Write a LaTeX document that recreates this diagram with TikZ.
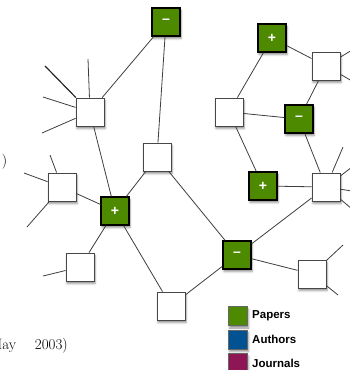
\documentclass[tikz,border=0pt]{standalone}
\usepackage{fontspec}
\newfontfamily\labelfont{Liberation Sans}
\usetikzlibrary{shadows.blur}

\definecolor{papergreen}{RGB}{77,138,0}
\definecolor{authorblue}{RGB}{0,82,147}
\definecolor{journalred}{RGB}{143,22,84}
\definecolor{edgegray}{RGB}{62,62,62}

\tikzset{
  soft shadow/.style={blur shadow={shadow xshift=1pt, shadow yshift=-2.5pt,
      shadow blur radius=2pt, shadow opacity=45}},
  item/.style={rectangle, minimum size=28pt, inner sep=0pt, soft shadow},
  doc/.style={item, draw=black!72, line width=0.9pt, fill=white},
  paper/.style={item, draw=black, line width=1.4pt, fill=papergreen, text=white,
      font=\labelfont\bfseries\fontsize{14}{14}\selectfont},
  link/.style={draw=edgegray, line width=0.8pt},
  strong link/.style={draw=black!85, line width=1.2pt},
  keybox/.style={rectangle, minimum size=19pt, inner sep=0pt, draw=black!60,
      line width=0.8pt, soft shadow},
  keytext/.style={anchor=west, inner sep=0pt,
      font=\labelfont\bfseries\fontsize{11.5}{12}\selectfont},
  caption/.style={inner sep=0pt, font=\fontsize{15}{15}\selectfont},
}

\begin{document}
\begin{tikzpicture}[x=1pt, y=-1pt]
\useasboundingbox (0,0) rectangle (350,370);

% citation network: green = papers, white = unexpanded items
\node[paper] (M1) at (166,22)  {\raisebox{0.5pt}{–}};
\node[paper] (P1) at (272,38)  {+};
\node[doc]   (W1) at (326,66)  {};
\node[doc]   (W2) at (229,112) {};
\node[paper] (M2) at (299,119) {\raisebox{0.5pt}{–}};
\node[doc]   (W4) at (90,112)  {};
\node[doc]   (W5) at (157,157) {};
\node[paper] (P2) at (263,186) {+};
\node[doc]   (W3) at (326,187) {};
\node[doc]   (W6) at (62,187)  {};
\node[paper] (P3) at (115,211) {+};
\node[paper] (M3) at (237,255) {\raisebox{0.5pt}{–}};
\node[doc]   (W7) at (80,267)  {};
\node[doc]   (W9) at (312,274) {};
\node[doc]   (W8) at (171,306) {};

% loose ends of links leading out of view
\coordinate (w4a) at (45,66);
\coordinate (w4b) at (88,59);
\coordinate (w4c) at (43,97);
\coordinate (w4d) at (42,133);
\coordinate (w6a) at (50,155);
\coordinate (w6b) at (24,173);
\coordinate (w6c) at (27,227);
\coordinate (w7a) at (43,276);
\coordinate (w1a) at (352,50);
\coordinate (w1b) at (352,81);
\coordinate (w3a) at (343,147);
\coordinate (w3b) at (352,167);
\coordinate (w3c) at (352,191);
\coordinate (w3d) at (352,209);
\coordinate (w9a) at (343,245);
\coordinate (w9b) at (338,295);

% links between items
\draw[link] (M1) -- (W4);
\draw[link] (M1) -- (W5);
\draw[link] (W4) -- (P3);
\draw[link] (W5) -- (P3);
\draw[link] (W5) -- (M3);
\draw[link] (W6) -- (P3);
\draw[link] (P3) -- (W7);
\draw[link] (P3) -- (W8);
\draw[link] (W8) -- (M3);
\draw[link] (M3) -- (W3);
\draw[link] (M3) -- (W9);
\draw[link] (P1) -- (W2);
\draw[link] (P1) -- (W1);
\draw[link] (W2) -- (M2);
\draw[link] (W1) -- (M2);
\draw[link] (W2) -- (P2);
\draw[link] (M2) -- (W3);
\draw[link] (P2) -- (W3);

\draw[strong link] (W4) -- (w4a);
\draw[link] (W4) -- (w4b);
\draw[link] (W4) -- (w4c);
\draw[link] (W4) -- (w4d);
\draw[link] (W6) -- (w6a);
\draw[link] (W6) -- (w6b);
\draw[link] (W6) -- (w6c);
\draw[link] (W7) -- (w7a);
\draw[link] (W1) -- (w1a);
\draw[link] (W1) -- (w1b);
\draw[link] (W3) -- (w3a);
\draw[link] (W3) -- (w3b);
\draw[link] (W3) -- (w3c);
\draw[link] (W3) -- (w3d);
\draw[link] (W9) -- (w9a);
\draw[link] (W9) -- (w9b);

% text running in from the left
\node[caption] (paren) at (4.5,162) {)};
\node[caption, anchor=base east] (date) at (68,349) {(May\hspace{18.8pt}2003)};

% legend
\node[keybox, fill=papergreen] (kp) at (238,316) {};
\node[keybox, fill=authorblue] (ka) at (238,339.5) {};
\node[keybox, fill=journalred] (kj) at (238,363) {};
\node[keytext] (tp) at (252,316) {Papers};
\node[keytext] (ta) at (252,339.5) {Authors};
\node[keytext] (tj) at (252,363) {Journals};
\end{tikzpicture}
\end{document}
